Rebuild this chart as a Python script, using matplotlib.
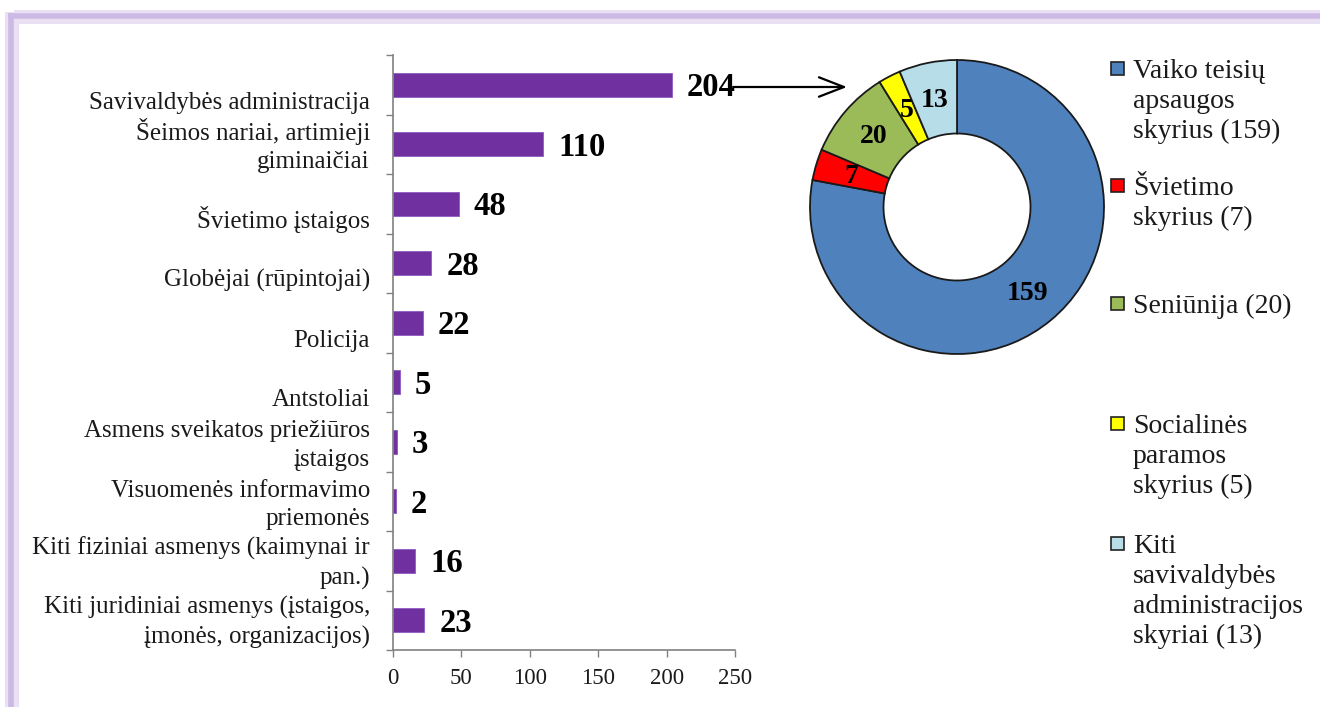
import matplotlib
matplotlib.use("Agg")
import matplotlib.pyplot as plt
from matplotlib.lines import Line2D
from matplotlib.patches import Rectangle, FancyArrowPatch
import numpy as np

# ---------------- data ----------------
categories = [
    "Savivaldybės administracija",
    "Šeimos nariai, artimieji\ngiminaičiai",
    "Švietimo įstaigos",
    "Globėjai (rūpintojai)",
    "Policija",
    "Antstoliai",
    "Asmens sveikatos priežiūros\nįstaigos",
    "Visuomenės informavimo\npriemonės",
    "Kiti fiziniai asmenys (kaimynai ir\npan.)",
    "Kiti juridiniai asmenys (įstaigos,\nįmonės, organizacijos)",
]
values = [204, 110, 48, 28, 22, 5, 3, 2, 16, 23]
x_ticks = [0, 50, 100, 150, 200, 250]

donut_labels = [
    "Vaiko teisių\napsaugos\nskyrius (159)",
    "Švietimo\nskyrius (7)",
    "Seniūnija (20)",
    "Socialinės\nparamos\nskyrius (5)",
    "Kiti\nsavivaldybės\nadministracijos\nskyriai (13)",
]
donut_values = [159, 7, 20, 5, 13]
donut_colors = ["#4F81BD", "#FF0000", "#9BBB59", "#FFFF00", "#B7DEE8"]

bar_color = "#7030A0"
FONT = "Liberation Serif"

W, H = 1320, 707
fig = plt.figure(figsize=(W / 100, H / 100), dpi=100)
fig.patch.set_facecolor("white")

def fx(px):
    return px / W

def fy(py):
    return 1 - py / H

# ---------------- frame ----------------
fig.add_artist(Line2D([fx(14), 1.0], [fy(17), fy(17)], transform=fig.transFigure,
                      color="#E9E0F4", lw=10, solid_capstyle="butt"))
fig.add_artist(Line2D([fx(12), fx(12)], [fy(12), 0.0], transform=fig.transFigure,
                      color="#E9E0F4", lw=10, solid_capstyle="butt"))
fig.add_artist(Line2D([fx(8), 1.0], [fy(16), fy(16)], transform=fig.transFigure,
                      color="#CDB9E5", lw=4, solid_capstyle="butt"))
fig.add_artist(Line2D([fx(11), fx(11)], [fy(13), 0.0], transform=fig.transFigure,
                      color="#CDB9E5", lw=4, solid_capstyle="butt"))

# ---------------- bar chart ----------------
ax = fig.add_axes([fx(393), fy(650), fx(735) - fx(393), fy(55) - fy(650)])
y = np.arange(len(categories))
ax.barh(y, values, height=0.4, color=bar_color, edgecolor="#8E5BC0", linewidth=0.6)
ax.set_xlim(0, 250)
ax.set_ylim(len(categories) - 0.5, -0.5)
ax.set_xticks(x_ticks)
ax.set_xticklabels([str(t) for t in x_ticks], fontfamily=FONT, fontsize=16.5, color="#1a1a1a")
ax.set_yticks(np.arange(len(categories) + 1) - 0.5)
ax.set_yticklabels([])
ax.tick_params(axis="both", direction="out", length=5, width=1, color="#808080", pad=5)
ax.tick_params(axis="x", pad=8)
for s in ["top", "right"]:
    ax.spines[s].set_visible(False)
for s in ["left", "bottom"]:
    ax.spines[s].set_color("#808080")
    ax.spines[s].set_linewidth(1.2)
ax.patch.set_alpha(0)

for yi, lab in zip(y, categories):
    ax.annotate(lab, xy=(0, yi), xycoords=ax.get_yaxis_transform(),
                xytext=(-23, -29), textcoords="offset pixels",
                ha="right", va="bottom", fontfamily=FONT, fontsize=18,
                linespacing=1.39, color="#1a1a1a", annotation_clip=False)

for yi, v in zip(y, values):
    ax.annotate(str(v), xy=(v, yi), xytext=(15, -3), textcoords="offset pixels",
                ha="left", va="center", fontfamily=FONT, fontsize=23.5,
                fontweight="bold", color="black", annotation_clip=False)

# arrow from the largest bar label to the donut
fig.add_artist(FancyArrowPatch(
    (733, H - 87), (847, H - 87), transform=None,
    arrowstyle="->,head_length=18,head_width=7", color="black", lw=1.6,
    mutation_scale=1, shrinkA=0, shrinkB=0))

# ---------------- donut ----------------
cx, cy, r = 957, 207, 147
ax2 = fig.add_axes([fx(cx - r), fy(cy + r), 2 * r / W, 2 * r / H])
wedges, _ = ax2.pie(donut_values, colors=donut_colors, startangle=90, counterclock=False,
                    radius=1.0, wedgeprops=dict(width=0.5, edgecolor="#1a1a1a", linewidth=1.3))
ax2.set_xlim(-1, 1)
ax2.set_ylim(-1, 1)
ax2.set_aspect("equal")
ax2.axis("off")
for w, v in zip(wedges, donut_values):
    ang = np.deg2rad((w.theta1 + w.theta2) / 2)
    rr = 0.75
    ax2.text(rr * np.cos(ang), rr * np.sin(ang) - 0.01, str(v), ha="center", va="center",
             fontfamily=FONT, fontsize=20, fontweight="bold", color="black")

# ---------------- legend ----------------
leg_first = [68, 185, 303, 423, 543]
for i, (lab, col) in enumerate(zip(donut_labels, donut_colors)):
    yc = leg_first[i]
    fig.add_artist(Rectangle((fx(1111), fy(yc + 7)), 13 / W, 13 / H, transform=fig.transFigure,
                             facecolor=col, edgecolor="#222222", linewidth=1.2))
    fig.text(fx(1133), fy(yc - 9), lab, ha="left", va="top", fontfamily=FONT,
             fontsize=20, linespacing=1.26, color="#1a1a1a")

fig.savefig("out.png", dpi=100, facecolor="white")
